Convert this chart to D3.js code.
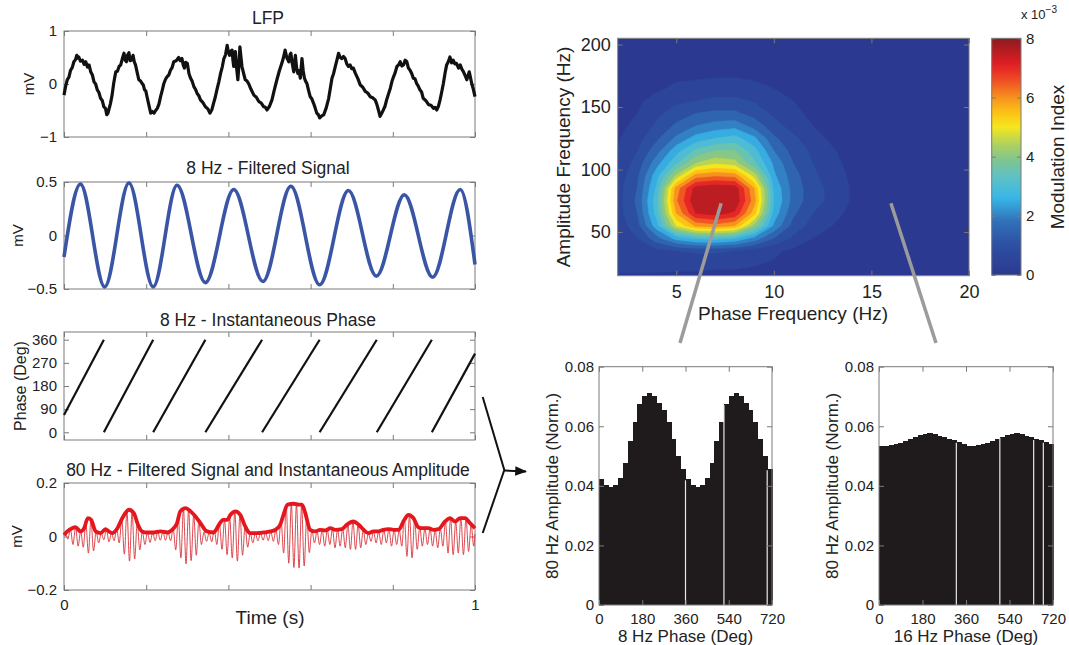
<!DOCTYPE html>
<html><head><meta charset="utf-8">
<script src="https://cdn.jsdelivr.net/npm/d3@7"></script>
<style>body{margin:0;background:#fff}</style>
</head><body><svg id="c" width="1069" height="645"></svg>
<script>
// ---------------- DATA ----------------
// time axis (ms)
const timeTicks = [0, 200, 400, 600, 800, 1000];
const lfpTicks = [-1, 0, 1];
const filtTicks = [-0.5, 0, 0.5];
const phaseTicks = [0, 90, 180, 270, 360];
const gammaTicks = [-0.2, 0, 0.2];

// raw LFP trace [ms, mV]
const lfp = [[0,-0.21],[4,-0.04],[8,0.08],[12,0.13],[16,0.26],[20,0.31],[24,0.42],[28,0.46],[31,0.54],[34,0.49],[36,0.51],[40,0.43],[45,0.45],[49,0.37],[53,0.42],[57,0.32],[61,0.36],[65,0.23],[69,0.17],[73,0.04],[77,0.0],[81,-0.11],[85,-0.16],[89,-0.27],[93,-0.31],[97,-0.43],[101,-0.46],[104,-0.58],[107,-0.55],[109,-0.49],[113,-0.37],[117,-0.21],[121,0.02],[126,0.23],[130,0.24],[134,0.33],[138,0.36],[142,0.48],[146,0.58],[149,0.45],[152,0.42],[155,0.55],[158,0.59],[161,0.44],[164,0.45],[168,0.54],[171,0.42],[174,0.36],[178,0.22],[182,0.08],[186,0.06],[190,0.01],[193,-0.02],[196,-0.11],[199,-0.13],[202,-0.24],[206,-0.38],[211,-0.55],[215,-0.52],[219,-0.55],[223,-0.5],[227,-0.46],[231,-0.38],[235,-0.24],[239,-0.12],[243,0.01],[247,0.09],[251,0.14],[255,0.17],[259,0.26],[263,0.31],[267,0.42],[273,0.44],[279,0.50],[283,0.44],[287,0.48],[290,0.36],[293,0.30],[296,0.41],[300,0.39],[304,0.2],[308,0.11],[312,0.05],[316,-0.05],[320,-0.1],[324,-0.18],[328,-0.22],[332,-0.30],[338,-0.35],[344,-0.43],[350,-0.47],[355,-0.55],[360,-0.48],[364,-0.36],[368,-0.25],[372,-0.11],[377,0.05],[381,0.20],[385,0.32],[389,0.48],[393,0.55],[397,0.73],[400,0.6],[403,0.54],[406,0.62],[409,0.64],[411,0.45],[413,0.33],[415,0.5],[417,0.61],[420,0.3],[423,0.08],[426,0.4],[428,0.70],[430,0.55],[433,0.33],[437,0.2],[441,0.08],[445,0.06],[449,0.01],[455,-0.1],[462,-0.21],[468,-0.25],[474,-0.33],[480,-0.36],[486,-0.43],[490,-0.44],[494,-0.49],[500,-0.42],[506,-0.30],[512,-0.1],[518,0.08],[524,0.25],[530,0.39],[534,0.5],[538,0.64],[542,0.5],[547,0.42],[550,0.55],[552,0.58],[555,0.4],[559,0.23],[561,0.4],[563,0.54],[566,0.3],[569,0.20],[572,0.25],[575,0.11],[577,0.3],[579,0.48],[582,0.25],[585,0.11],[588,0.05],[591,0.01],[595,-0.12],[599,-0.24],[603,-0.28],[607,-0.36],[611,-0.45],[615,-0.55],[619,-0.58],[622,-0.64],[627,-0.6],[632,-0.58],[638,-0.45],[644,-0.27],[648,-0.08],[652,0.11],[656,0.2],[660,0.33],[664,0.45],[668,0.58],[672,0.5],[676,0.48],[680,0.52],[684,0.48],[688,0.38],[692,0.33],[696,0.36],[700,0.29],[704,0.3],[709,0.20],[715,0.1],[721,-0.02],[727,-0.06],[733,-0.14],[739,-0.17],[745,-0.24],[751,-0.26],[757,-0.30],[761,-0.38],[765,-0.49],[769,-0.61],[773,-0.55],[777,-0.49],[781,-0.42],[785,-0.30],[789,-0.2],[794,-0.08],[798,0.05],[802,0.14],[806,0.22],[810,0.33],[814,0.36],[818,0.42],[822,0.34],[826,0.36],[830,0.45],[834,0.42],[838,0.3],[842,0.26],[846,0.2],[850,0.11],[854,0.1],[858,0.01],[862,-0.04],[866,-0.11],[870,-0.15],[874,-0.27],[880,-0.31],[887,-0.39],[893,-0.40],[899,-0.46],[903,-0.44],[907,-0.49],[911,-0.42],[915,-0.30],[919,-0.15],[923,0.01],[927,0.2],[931,0.36],[935,0.42],[939,0.51],[943,0.4],[947,0.45],[951,0.38],[955,0.39],[960,0.3],[964,0.36],[968,0.28],[972,0.23],[976,0.16],[980,0.08],[983,0.15],[986,0.23],[989,0.12],[992,0.01],[996,-0.1],[1000,-0.24]];

// 8 Hz filtered signal: start, successive extrema, end [ms, mV]
const theta = [[0,-0.2],[40,0.48],[99,-0.48],[158,0.49],[217,-0.48],[275,0.47],[344,-0.44],[413,0.43],[484,-0.43],[552,0.46],[622,-0.46],[692,0.42],[760,-0.38],[828,0.38],[897,-0.39],[964,0.43],[1000,-0.27]];

// 8 Hz instantaneous phase: wrap times (ms), start and end phase (deg)
const phaseWrapTimes = [97, 217, 344, 482, 622, 761, 895];
const phaseStart = 67, phaseEnd = 306;

// 80 Hz filtered signal: one peak and one trough per cycle (mV)
const gammaCycleMs = 12.5;
const gammaPeaks = [0.010,0.027,0.035,0.020,0.050,0.062,0.018,0.013,0.026,0.013,
 0.028,0.065,0.095,0.093,0.050,0.019,0.015,0.015,0.017,0.018,
 0.016,0.030,0.070,0.103,0.100,0.082,0.057,0.017,0.015,0.025,
 0.050,0.062,0.070,0.093,0.083,0.038,0.013,0.012,0.013,0.014,
 0.019,0.025,0.060,0.112,0.121,0.120,0.116,0.075,0.025,0.019,
 0.025,0.023,0.028,0.026,0.030,0.044,0.056,0.045,0.025,0.013,
 0.019,0.019,0.025,0.028,0.025,0.025,0.070,0.078,0.060,0.035,
 0.031,0.031,0.025,0.030,0.056,0.069,0.056,0.069,0.069,0.045];
const gammaTroughs = [-0.010,-0.030,-0.036,-0.040,-0.062,-0.054,-0.024,-0.012,-0.020,-0.016,
 -0.024,-0.066,-0.092,-0.084,-0.050,-0.030,-0.022,-0.016,-0.014,-0.014,
 -0.016,-0.050,-0.080,-0.102,-0.090,-0.070,-0.030,-0.018,-0.020,-0.030,
 -0.048,-0.068,-0.080,-0.092,-0.070,-0.040,-0.024,-0.016,-0.014,-0.016,
 -0.018,-0.030,-0.062,-0.100,-0.116,-0.118,-0.110,-0.060,-0.024,-0.030,
 -0.036,-0.030,-0.042,-0.036,-0.042,-0.048,-0.048,-0.042,-0.030,-0.018,
 -0.024,-0.030,-0.024,-0.036,-0.030,-0.036,-0.074,-0.080,-0.048,-0.036,
 -0.030,-0.036,-0.042,-0.036,-0.062,-0.068,-0.062,-0.068,-0.056,-0.036];

// 80 Hz instantaneous amplitude [ms, mV]
const gammaEnv = [[0,0.006],[8,0.019],[20,0.031],[28,0.035],[40,0.019],[49,0.031],[58,0.069],[66,0.0625],[77,0.019],[89,0.0125],[101,0.0275],[109,0.019],[117,0.0125],[130,0.031],[142,0.069],[158,0.1],[170,0.0875],[180,0.044],[190,0.019],[202,0.015],[219,0.015],[235,0.019],[251,0.015],[263,0.025],[275,0.05],[283,0.094],[296,0.106],[308,0.094],[320,0.075],[332,0.05],[348,0.019],[364,0.015],[377,0.044],[387,0.0625],[397,0.0625],[405,0.081],[417,0.094],[429,0.081],[441,0.0375],[453,0.0125],[470,0.0125],[486,0.015],[502,0.019],[514,0.025],[526,0.044],[534,0.081],[544,0.119],[559,0.1225],[571,0.119],[579,0.119],[587,0.0875],[599,0.025],[611,0.019],[623,0.025],[636,0.0225],[648,0.031],[660,0.025],[676,0.0275],[688,0.044],[704,0.056],[717,0.044],[729,0.025],[741,0.0125],[753,0.019],[765,0.019],[777,0.025],[789,0.0275],[802,0.025],[814,0.025],[828,0.0625],[838,0.081],[850,0.069],[862,0.035],[874,0.031],[887,0.031],[899,0.025],[911,0.0275],[927,0.056],[939,0.069],[951,0.056],[964,0.069],[976,0.069],[988,0.05],[1000,0.031]];

// comodulogram (modulation index, x10^-3)
const phaseFreqs = [2,3,4,5,6,7,8,9,10,11,12,13,14,15,16,17,18,19,20];
const ampFreqs = [205,195,185,175,165,155,145,135,125,115,105,95,85,75,65,55,45,35,25,15];
const miGrid = [
 [0.2,0.2,0.2,0.2,0.2,0.2,0.2,0.2,0.2,0.2,0.2,0.2,0.2,0.2,0.2,0.2,0.2,0.2,0.2],
 [0.2,0.2,0.2,0.2,0.2,0.2,0.2,0.2,0.2,0.2,0.2,0.2,0.2,0.2,0.2,0.2,0.2,0.2,0.2],
 [0.2,0.2,0.2,0.3,0.3,0.3,0.3,0.3,0.2,0.2,0.2,0.2,0.2,0.2,0.2,0.2,0.2,0.2,0.2],
 [0.2,0.2,0.3,0.4,0.4,0.45,0.45,0.4,0.3,0.2,0.2,0.2,0.2,0.2,0.2,0.2,0.2,0.2,0.2],
 [0.2,0.3,0.4,0.6,0.7,0.75,0.75,0.65,0.5,0.35,0.2,0.2,0.2,0.2,0.2,0.2,0.2,0.2,0.2],
 [0.3,0.4,0.7,0.9,1.0,1.1,1.1,0.95,0.7,0.5,0.3,0.2,0.2,0.2,0.2,0.2,0.2,0.2,0.2],
 [0.35,0.5,0.9,1.2,1.5,1.6,1.6,1.3,0.9,0.6,0.4,0.25,0.2,0.2,0.2,0.2,0.2,0.2,0.2],
 [0.4,0.6,1.1,1.6,2.0,2.2,2.3,1.8,1.2,0.8,0.5,0.3,0.2,0.2,0.2,0.2,0.2,0.2,0.2],
 [0.45,0.8,1.4,2.1,2.7,3.0,3.2,2.6,1.6,1.1,0.7,0.4,0.25,0.2,0.2,0.2,0.2,0.2,0.2],
 [0.5,1.0,1.8,2.8,3.6,4.0,4.0,3.2,2.0,1.3,0.9,0.55,0.3,0.2,0.2,0.2,0.2,0.2,0.2],
 [0.6,1.2,2.3,3.4,4.5,4.9,4.7,3.6,2.4,1.5,1.0,0.65,0.35,0.2,0.2,0.2,0.2,0.2,0.2],
 [0.7,1.4,2.8,4.6,6.2,6.4,6.3,4.8,2.6,1.7,1.1,0.75,0.4,0.2,0.2,0.2,0.2,0.2,0.2],
 [0.8,1.5,3.1,6.2,7.7,7.9,7.8,6.0,2.9,1.8,1.2,0.85,0.45,0.2,0.2,0.2,0.2,0.2,0.2],
 [0.8,1.6,3.3,6.4,7.9,8.0,7.9,6.2,3.0,1.8,1.2,0.85,0.45,0.2,0.2,0.2,0.2,0.2,0.2],
 [0.8,1.5,3.2,6.0,7.5,7.7,7.4,5.7,2.8,1.6,1.0,0.7,0.35,0.2,0.2,0.2,0.2,0.2,0.2],
 [0.7,1.3,2.8,5.0,6.1,6.3,6.0,4.3,2.4,1.3,0.8,0.5,0.25,0.2,0.2,0.2,0.2,0.2,0.2],
 [0.6,1.0,1.8,2.7,3.1,3.2,3.0,2.3,1.5,0.9,0.5,0.3,0.2,0.2,0.2,0.2,0.2,0.2,0.2],
 [0.55,0.7,0.9,1.0,1.1,1.1,1.0,0.8,0.6,0.4,0.25,0.2,0.2,0.2,0.2,0.2,0.2,0.2,0.2],
 [0.7,0.7,0.65,0.6,0.6,0.6,0.6,0.55,0.45,0.3,0.2,0.2,0.2,0.2,0.2,0.2,0.2,0.2,0.2],
 [0.45,0.45,0.45,0.45,0.45,0.4,0.4,0.35,0.3,0.25,0.2,0.2,0.2,0.2,0.2,0.2,0.2,0.2,0.2]];
const miLevels = [0.5,1,1.5,2,2.5,3,3.5,4,4.5,5,5.5,6,6.5,7,7.5];
const hmXTicks = [5,10,15,20];
const hmYTicks = [50,100,150,200];
const cbTicks = [0,2,4,6,8];
// colormap stops (jet-like, as printed)
const cmapStops = [0,1,1.8,2.6,3.3,3.9,4.5,5.0,5.5,6.0,6.6,7.1,8];
const cmapCols = ["#2b3990","#2d4fa2","#3070b8","#38b5e7","#5dc2c6","#80c48e","#b7d456","#f6e61d","#fcc216","#f6921e","#ef4b24","#e31e25","#8b1b1e"];
// connectors: points in comodulogram [phase Hz, amp Hz]
const connectFrom = [[7.3,73],[16,73]];

// phase-amplitude histograms (18 bins of 20 deg, shown over two cycles)
const phaseBinDeg = 20;
const histTheta = [0.0422,0.0403,0.0395,0.0403,0.0425,0.0478,0.0552,0.0615,0.0675,0.0702,0.0711,0.0702,0.0679,0.0655,0.0615,0.0556,0.0501,0.0456];
const histFast = [0.0535,0.0535,0.0537,0.0539,0.0545,0.0552,0.0558,0.0565,0.0571,0.0574,0.0576,0.0573,0.0568,0.0563,0.0557,0.0554,0.0548,0.0539];
const histXTicks = [0,180,360,540,720];
const histYTicks = [0,0.02,0.04,0.06,0.08];
const histThetaGaps = [360,520,700];
const histFastGaps = [320,500,640,680];

// ---------------- DRAW ----------------
const FONT = "'Liberation Sans', Arial, Helvetica, sans-serif";
const svg = d3.select("#c");
const AX = "#7a7a7a", TXT = "#222";
const minus = d => (d < 0 ? "\u2212" : "") + Math.abs(d);

function box(x, y, o) {
  const [x0, x1] = x.range(), [y0, y1] = y.range();
  const g = svg.append("g");
  const ts = o.ts || 5;
  g.append("g").attr("transform", `translate(0,${y0})`)
    .call(d3.axisBottom(x).tickValues(o.xt).tickSize(-ts).tickPadding(o.xpad || 6).tickFormat(o.xf || (() => "")));
  g.append("g").attr("transform", `translate(0,${y1})`)
    .call(d3.axisTop(x).tickValues(o.xt).tickSize(-ts).tickFormat(() => ""));
  g.append("g").attr("transform", `translate(${x0},0)`)
    .call(d3.axisLeft(y).tickValues(o.yt).tickSize(-ts).tickPadding(o.ypad || 7).tickFormat(o.yf || (() => "")));
  g.append("g").attr("transform", `translate(${x1},0)`)
    .call(d3.axisRight(y).tickValues(o.yt).tickSize(-ts).tickFormat(() => ""));
  g.selectAll(".domain").remove();
  g.selectAll(".tick line").attr("stroke", AX);
  g.selectAll(".tick text").attr("font-size", o.fs || 15).attr("font-family", FONT).attr("fill", TXT);
  g.append("rect").attr("x", x0).attr("y", y1).attr("width", x1 - x0).attr("height", y0 - y1)
    .attr("fill", "none").attr("stroke", AX).attr("stroke-width", 1);
  return g;
}
function text(x, y, s, size, opts = {}) {
  const t = svg.append("text").attr("x", x).attr("y", y).text(s)
    .attr("font-family", FONT).attr("font-size", size).attr("fill", TXT)
    .attr("text-anchor", opts.anchor || "middle");
  if (opts.rotate) t.attr("transform", `rotate(-90,${x},${y})`).attr("dy", "0.35em");
  return t;
}

// ---- left time-series panels ----
const tx = d3.scaleLinear([0, 1000], [64, 475]);
const panels = [
  {top: 31, bot: 137, dom: [-1, 1], ticks: lfpTicks, title: "LFP", ty: 24, yl: "mV", ylx: 29, yls: 15},
  {top: 182, bot: 289, dom: [-0.5, 0.5], ticks: filtTicks, title: "8 Hz - Filtered Signal", ty: 174, yl: "mV", ylx: 18, yls: 15},
  {top: 332, bot: 440, dom: [-30, 390], ticks: phaseTicks, title: "8 Hz - Instantaneous Phase", ty: 326, yl: "Phase (Deg)", ylx: 20, yls: 16},
  {top: 483, bot: 590, dom: [-0.2, 0.2], ticks: gammaTicks, title: "80 Hz - Filtered Signal and Instantaneous Amplitude", ty: 476, yl: "mV", ylx: 17, yls: 15}
];
const ys = panels.map(p => d3.scaleLinear(p.dom, [p.bot, p.top]));
panels.forEach((p, i) => {
  const last = i === 3;
  box(tx, ys[i], {xt: timeTicks, yt: p.ticks, yf: minus, fs: 15, ypad: 7,
    xf: last ? (d => (d === 0 || d === 1000) ? String(d / 1000) : "") : null, xpad: 9});
  text(268, p.ty, p.title, 17.5);
  text(p.ylx, (p.top + p.bot) / 2, p.yl, p.yls, {rotate: true});
});
text(270, 624, "Time (s)", 19);

// LFP
svg.append("path").datum(lfp)
  .attr("d", d3.line().x(d => tx(d[0])).y(d => ys[0](d[1])))
  .attr("fill", "none").attr("stroke", "#111").attr("stroke-width", 3.2).attr("stroke-linejoin", "round");
// 8 Hz
svg.append("path").datum(theta)
  .attr("d", d3.line().curve(d3.curveMonotoneX).x(d => tx(d[0])).y(d => ys[1](d[1])))
  .attr("fill", "none").attr("stroke", "#3a55a5").attr("stroke-width", 3.6);
// phase
const phaseSegs = [];
let pt = 0, pp = phaseStart;
phaseWrapTimes.forEach(t => { phaseSegs.push([[pt, pp], [t, 360]]); pt = t; pp = 0; });
phaseSegs.push([[pt, 0], [1000, phaseEnd]]);
svg.append("g").selectAll("path").data(phaseSegs).join("path")
  .attr("d", d3.line().x(d => tx(d[0])).y(d => ys[2](d[1])))
  .attr("stroke", "#111").attr("stroke-width", 2.2).attr("fill", "none");
// 80 Hz carrier
const carrier = [[0, 0.004]];
gammaPeaks.forEach((p, k) => {
  carrier.push([(k + 0.25) * gammaCycleMs, p]);
  carrier.push([(k + 0.75) * gammaCycleMs, gammaTroughs[k]]);
});
carrier.push([1000, 0.01]);
svg.append("path").datum(carrier)
  .attr("d", d3.line().curve(d3.curveMonotoneX).x(d => tx(d[0])).y(d => ys[3](d[1])))
  .attr("fill", "none").attr("stroke", "#d8323a").attr("stroke-width", 0.9);
svg.append("path").datum(gammaEnv)
  .attr("d", d3.line().curve(d3.curveMonotoneX).x(d => tx(d[0])).y(d => ys[3](d[1])))
  .attr("fill", "none").attr("stroke", "#e5161d").attr("stroke-width", 3.8).attr("stroke-linejoin", "round");

// bracket + arrow
svg.append("defs").append("marker").attr("id", "ah").attr("viewBox", "0 0 10 10")
  .attr("refX", 9).attr("refY", 5).attr("markerWidth", 6).attr("markerHeight", 6).attr("orient", "auto")
  .append("path").attr("d", "M0,1 L10,5 L0,9 z").attr("fill", "#111");
svg.append("path").attr("d", "M482.7,397 L504.3,470 L482.7,533")
  .attr("fill", "none").attr("stroke", "#111").attr("stroke-width", 2);
svg.append("line").attr("x1", 504.3).attr("y1", 470.5).attr("x2", 526).attr("y2", 471.5)
  .attr("stroke", "#111").attr("stroke-width", 2).attr("marker-end", "url(#ah)");

// ---- comodulogram ----
const cmap = d3.scaleLinear(cmapStops, cmapCols).interpolate(d3.interpolateRgb).clamp(true);
const hx = d3.scaleLinear([2, 20], [617.7, 969]);
const hy = d3.scaleLinear([15, 205], [275.7, 38.3]);
svg.append("clipPath").attr("id", "hmclip").append("rect")
  .attr("x", 617.7).attr("y", 38.3).attr("width", 969 - 617.7).attr("height", 275.7 - 38.3);
const hm = svg.append("g").attr("clip-path", "url(#hmclip)");
hm.append("rect").attr("x", 617.7).attr("y", 38.3).attr("width", 969 - 617.7).attr("height", 275.7 - 38.3)
  .attr("fill", cmap(0));
const nx = phaseFreqs.length, ny = ampFreqs.length;
const dPh = phaseFreqs[1] - phaseFreqs[0], dAm = ampFreqs[0] - ampFreqs[1];
const conts = d3.contours().size([nx, ny]).thresholds(miLevels)(miGrid.flat());
const proj = d3.geoTransform({point(px, py) {
  this.stream.point(hx(phaseFreqs[0] + (px - 0.5) * dPh), hy(ampFreqs[0] - (py - 0.5) * dAm));
}});
const gp = d3.geoPath(proj);
hm.selectAll("path").data(conts).join("path").attr("d", gp)
  .attr("fill", d => cmap(d.value)).attr("stroke", d => cmap(d.value)).attr("stroke-width", 0.6);
box(hx, hy, {xt: hmXTicks, yt: hmYTicks, xf: d => d, yf: d => d, fs: 18, xpad: 10, ypad: 7});
text(793, 320, "Phase Frequency (Hz)", 19);
text(563, 157, "Amplitude Frequency (Hz)", 19, {rotate: true});

// colorbar
const cby = d3.scaleLinear([0, 8], [275, 38.3]);
const grad = svg.select("defs").append("linearGradient").attr("id", "cbg")
  .attr("x1", 0).attr("y1", 1).attr("x2", 0).attr("y2", 0);
d3.range(0, 8.001, 0.2).forEach(v => grad.append("stop").attr("offset", v / 8).attr("stop-color", cmap(v)));
svg.append("rect").attr("x", 991.7).attr("y", 38.3).attr("width", 1021 - 991.7).attr("height", 275 - 38.3)
  .attr("fill", "url(#cbg)").attr("stroke", AX);
const cbg = svg.append("g");
cbg.append("g").attr("transform", "translate(1021,0)")
  .call(d3.axisRight(cby).tickValues(cbTicks).tickSize(-4).tickPadding(5).tickFormat(d => d));
cbg.append("g").attr("transform", "translate(991.7,0)")
  .call(d3.axisLeft(cby).tickValues(cbTicks).tickSize(-4).tickFormat(() => ""));
cbg.selectAll(".domain").remove();
cbg.selectAll(".tick line").attr("stroke", AX);
cbg.selectAll(".tick text").attr("font-size", 15).attr("font-family", FONT).attr("fill", TXT);
const xt = svg.append("text").attr("x", 1021).attr("y", 19).attr("font-family", FONT).attr("fill", TXT).attr("font-size", 13);
xt.append("tspan").text("x 10");
xt.append("tspan").attr("dy", -6).attr("font-size", 10).text("\u22123");
text(1057, 157, "Modulation Index", 19, {rotate: true});

// connectors
const connectTo = [[680, 343], [936, 343]];
connectFrom.forEach((p, i) => {
  svg.append("line").attr("x1", hx(p[0])).attr("y1", hy(p[1]))
    .attr("x2", connectTo[i][0]).attr("y2", connectTo[i][1])
    .attr("stroke", "#9b9b9b").attr("stroke-width", 3.5);
});

// ---- histograms ----
function hist(x0, x1, vals, gaps, xlabel, ylx) {
  const x = d3.scaleLinear([0, 720], [x0, x1]);
  const y = d3.scaleLinear([0, 0.08], [605, 366.7]);
  const data = vals.concat(vals);
  svg.append("g").attr("shape-rendering", "crispEdges").selectAll("rect").data(data).join("rect")
    .attr("x", (d, i) => x(i * phaseBinDeg)).attr("width", x(phaseBinDeg) - x(0) + 0.6)
    .attr("y", d => y(d)).attr("height", d => y(0) - y(d)).attr("fill", "#1f1a1b");
  svg.append("g").selectAll("line").data(gaps).join("line")
    .attr("x1", d => x(d)).attr("x2", d => x(d))
    .attr("y1", (d) => y(data[Math.round(d / phaseBinDeg)]) + 1).attr("y2", y(0))
    .attr("stroke", "#e8e8e8").attr("stroke-width", 1.2);
  box(x, y, {xt: histXTicks, yt: histYTicks, xf: d => d, yf: d => d === 0 ? "0" : d.toFixed(2), fs: 15, xpad: 8, ypad: 5});
  text((x0 + x1) / 2, 642, xlabel, 17);
  text(ylx, (605 + 366.7) / 2, "80 Hz Amplitude (Norm.)", 17, {rotate: true});
}
hist(599, 772, histTheta, histThetaGaps, "8 Hz Phase (Deg)", 552);
hist(879, 1053, histFast, histFastGaps, "16 Hz Phase (Deg)", 832);
</script></body></html>
